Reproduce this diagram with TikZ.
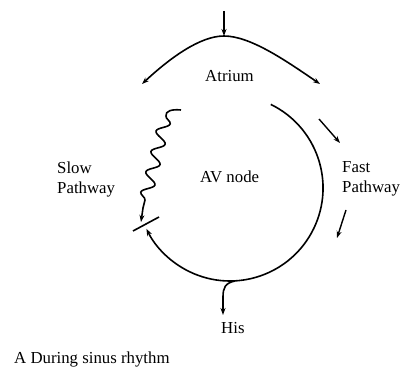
\documentclass[tikz,border=0pt]{standalone}
\usepackage{fontspec}
\setmainfont{Liberation Serif}
\usetikzlibrary{arrows.meta,decorations.pathmorphing}
\begin{document}
\begin{tikzpicture}[x=1pt,y=-1pt,
  line/.style={line width=1.6pt},
  arr/.style={-{Stealth[length=7pt,width=5pt]}},
  lbl/.style={inner sep=0pt,font=\fontsize{16.8}{20}\selectfont},
  txt/.style={lbl,align=left,anchor=west}]
\useasboundingbox (0,0) rectangle (402,369);
% coordinates
\coordinate (topin) at (224,11);
\coordinate (peak) at (224,36);
\coordinate (archL) at (142,84);
\coordinate (archR) at (320,84);
\coordinate (arcS) at (270.8,104.4);
\coordinate (tickA) at (133,231);
\coordinate (tickB) at (159,217);
\coordinate (slowS) at (181,110);
\coordinate (slowA) at (166,116);
\coordinate (slowB) at (143,208);
\coordinate (slowE) at (141,222);
\coordinate (hisS) at (235,281);
\coordinate (hisE) at (223,315);
\coordinate (f1a) at (319,119);
\coordinate (f1b) at (340,143);
\coordinate (f2a) at (346,210);
\coordinate (f2b) at (337,238);
% labels
\node[lbl,anchor=base west] (atrium) at (205,82) {Atrium};
\node[lbl,anchor=base west] (av) at (200,182) {AV node};
\node[txt] (slow) at (57,179) {Slow\\Pathway};
\node[txt] (fast) at (342,179) {Fast\\Pathway};
\node[lbl,anchor=base west] (his) at (221,333) {His};
\node[lbl,anchor=base west] (caption) at (14,363) {A During sinus rhythm};
% top input arrow
\draw[line,arr] (topin) -- (peak);
% atrium arch
\draw[line,arr] (peak) .. controls (200,36) and (170,58) .. (archL);
\draw[line,arr] (peak) .. controls (250,36) and (285,60) .. (archR);
% AV node circle arc
\draw[line,arr] (arcS) arc[start angle=-64,end angle=154,radius=93];
% tick
\draw[line] (tickA) -- (tickB);
% slow pathway wiggle
\draw[line] (slowS) .. controls (172,109) and (165,111) .. (slowA);
\draw[line,decorate,decoration={snake,amplitude=6pt,segment length=21pt}] (slowA) -- (slowB);
\draw[line,arr] (slowB) -- (slowE);
% His
\draw[line,arr] (hisS) .. controls (225,283) and (223,288) .. (223,297) -- (hisE);
% fast pathway arrows
\draw[line width=1.4pt,arr] (f1a) -- (f1b);
\draw[line width=1.4pt,arr] (f2a) -- (f2b);
\end{tikzpicture}
\end{document}
